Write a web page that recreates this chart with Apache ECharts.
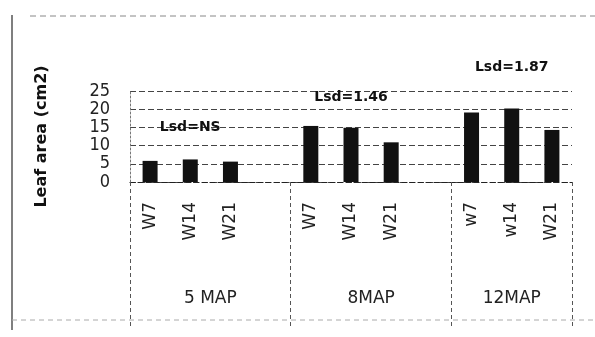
<!DOCTYPE html>
<html>
<head>
<meta charset="utf-8">
<script src="https://cdn.jsdelivr.net/npm/echarts@6/dist/echarts.min.js"></script>
<style>
  html, body { margin: 0; padding: 0; background: #fff; }
  #chart { width: 595px; height: 337px; }
</style>
</head>
<body>
<div id="chart"></div>
<script>
// Leaf area by week within each MAP group
const groups = ['5 MAP', '8MAP', '12MAP'];
const weeks = [['W7', 'W14', 'W21'], ['W7', 'W14', 'W21'], ['w7', 'w14', 'W21']];
const leafArea = [
  [5.8, 6.2, 5.6],
  [15.4, 14.9, 10.9],
  [19.1, 20.2, 14.3]
];
const lsdText = ['Lsd=NS', 'Lsd=1.46', 'Lsd=1.87'];
const lsdHeight = [15, 23.3, 31.6];
const yTicks = [0, 5, 10, 15, 20, 25];

// Flatten groups into one category axis with an empty slot before each later group
const categories = [];
const values = [];
const groupStart = [];
groups.forEach((g, gi) => {
  if (gi > 0) { categories.push(''); values.push(null); }
  groupStart.push(categories.length);
  weeks[gi].forEach((w, wi) => { categories.push(w); values.push(leafArea[gi][wi]); });
});
const slotCount = categories.length;
// group boundaries: left edge of each group's first bar slot, plus the right end
const separators = [0, ...groupStart.slice(1), slotCount];
const groupCenters = groups.map((g, gi) => (separators[gi] + separators[gi + 1]) / 2);

const chart = echarts.init(document.getElementById('chart'));
chart.setOption({
  backgroundColor: '#fff',
  animation: false,
  grid: { left: 130, right: 23, top: 91, bottom: 155 },
  xAxis: [
    {
      type: 'category',
      data: categories,
      axisLine: { show: true, lineStyle: { color: '#222', type: [5, 3], width: 1.2 } },
      axisTick: { show: false },
      axisLabel: {
        rotate: 90,
        margin: 20,
        interval: 0,
        fontFamily: 'DejaVu Sans',
        fontSize: 17,
        color: '#222'
      }
    },
    {
      type: 'value',
      position: 'bottom',
      min: 0,
      max: slotCount,
      axisLine: { show: false },
      splitLine: { show: false },
      axisTick: {
        show: true,
        customValues: separators,
        length: 144,
        lineStyle: { color: '#555', type: [4, 3], width: 1 }
      },
      axisLabel: {
        customValues: groupCenters,
        margin: 108,
        fontFamily: 'DejaVu Sans',
        fontSize: 17,
        color: '#222',
        formatter: (v) => groups[groupCenters.indexOf(v)] || ''
      }
    }
  ],
  yAxis: {
    type: 'value',
    min: 0,
    max: 25,
    interval: 5,
    name: 'Leaf area (cm2)',
    nameLocation: 'middle',
    nameGap: 80,
    nameRotate: 90,
    nameTextStyle: { fontFamily: 'DejaVu Sans', fontWeight: 'bold', fontSize: 16, color: '#111' },
    axisLine: { show: true, lineStyle: { color: '#777', type: [2, 2] } },
    axisTick: { show: false },
    axisLabel: {
      margin: 20,
      fontFamily: 'DejaVu Sans Condensed',
      fontSize: 18,
      lineHeight: 18,
      color: '#222',
      customValues: yTicks
    },
    splitLine: { show: true, lineStyle: { color: '#444', type: [6, 3], width: 1 } }
  },
  series: [{
    type: 'bar',
    data: values,
    barWidth: 15,
    itemStyle: { color: '#111' }
  }]
});

// Page frame lines
const frame = [
  { id: 'frameTop', type: 'line', shape: { x1: 30, y1: 16, x2: 595, y2: 16 }, style: { stroke: '#888', lineDash: [6, 4], lineWidth: 1 } },
  { id: 'frameLeft', type: 'line', shape: { x1: 12, y1: 15, x2: 12, y2: 330 }, style: { stroke: '#555', lineWidth: 1.5 } },
  { id: 'frameBottom', type: 'line', shape: { x1: 12, y1: 320, x2: 595, y2: 320 }, style: { stroke: '#aaa', lineDash: [5, 4], lineWidth: 1 } }
];

// LSD annotations above each group, placed through the grid's data-to-pixel mapping
const lsdLabels = groups.map((g, gi) => {
  const p = chart.convertToPixel({ gridIndex: 0 }, [groupStart[gi] + 1, lsdHeight[gi]]);
  return {
    id: 'lsd' + gi,
    type: 'text',
    x: p[0],
    y: p[1],
    z: 10,
    style: {
      text: lsdText[gi],
      align: 'center',
      verticalAlign: 'middle',
      fontFamily: 'DejaVu Sans',
      fontWeight: 'bold',
      fontSize: 14,
      fill: '#111'
    }
  };
});
chart.setOption({ graphic: frame.concat(lsdLabels) });
</script>
</body>
</html>
